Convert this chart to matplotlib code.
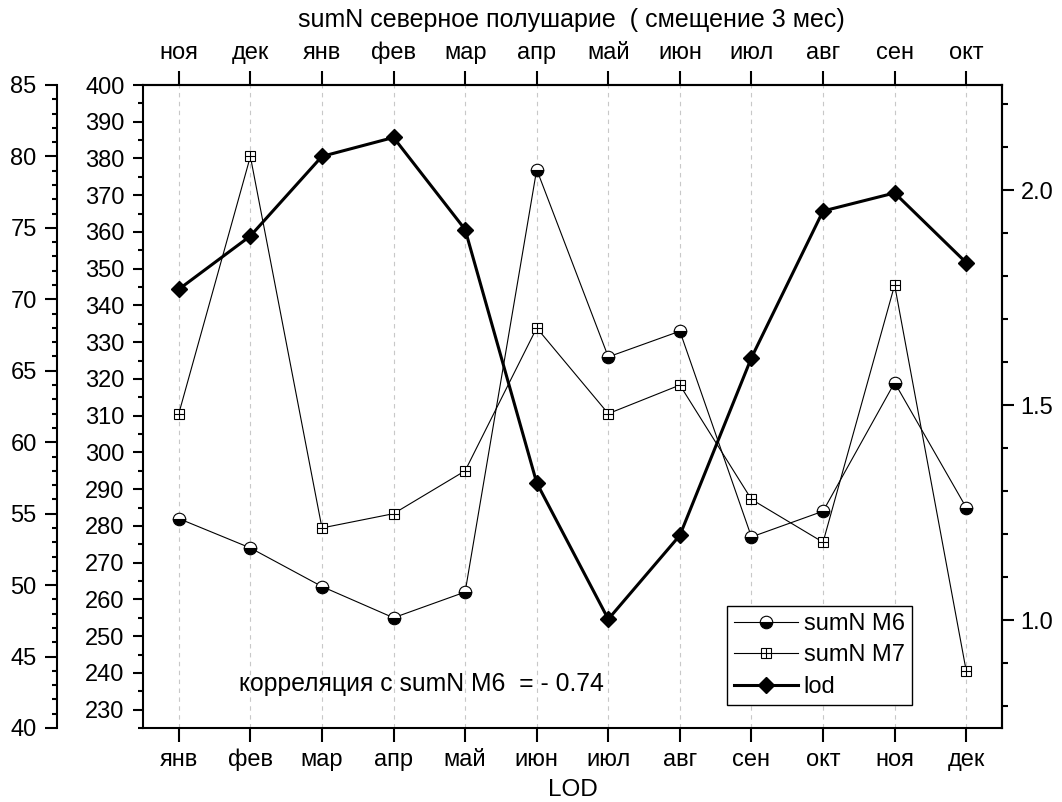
import matplotlib
matplotlib.use('Agg')
import matplotlib.pyplot as plt
from matplotlib.ticker import MultipleLocator, FormatStrFormatter
from matplotlib.lines import Line2D
from matplotlib.legend_handler import HandlerTuple

plt.rcParams['font.family'] = ['Liberation Sans', 'DejaVu Sans']

# ---------------- data ----------------
months_bottom = ['янв', 'фев', 'мар', 'апр', 'май', 'июн', 'июл', 'авг', 'сен', 'окт', 'ноя', 'дек']
months_top = ['ноя', 'дек', 'янв', 'фев', 'мар', 'апр', 'май', 'июн', 'июл', 'авг', 'сен', 'окт']
sumN_M6 = [282, 274, 263.5, 255, 262, 377, 326, 333, 277, 284, 319, 285]
sumN_M7 = [62, 80, 54, 55, 58, 68, 62, 64, 56, 53, 71, 44]
lod = [1.770, 1.894, 2.079, 2.123, 1.909, 1.320, 1.003, 1.198, 1.611, 1.952, 1.994, 1.832]
title = 'sumN северное полушарие  ( смещение 3 мес)'
note = 'корреляция с sumN M6  = - 0.74'

x = list(range(1, 13))

# ---------------- figure ----------------
W, H = 1062, 802
fig = plt.figure(figsize=(W / 100, H / 100), dpi=100)
L, R, T, B = 143, 1002, 85, 728
ax = fig.add_axes([L / W, 1 - B / H, (R - L) / W, (B - T) / H])
ax_out = ax.twinx()
ax_r = ax.twinx()

SW = 1.5
FS = 17

# M6 on inner left axis
ax.plot(x, sumN_M6, color='k', lw=0.8, marker='o', fillstyle='bottom',
        markerfacecolor='k', markerfacecoloralt='w', markeredgecolor='k',
        markersize=9, markeredgewidth=0.8, zorder=3)
ax.set_ylim(225, 400)
ax.set_xlim(0.5, 12.5)
ax.yaxis.set_major_locator(MultipleLocator(10))
ax.yaxis.set_minor_locator(MultipleLocator(5))
ax.set_xticks(x)
ax.set_xticklabels(months_bottom)
ax.tick_params(axis='y', which='major', direction='out', length=7.2, width=SW, labelsize=FS, pad=6)
ax.tick_params(axis='y', which='minor', direction='out', length=3.6, width=SW)
ax.tick_params(axis='x', which='major', direction='out', length=10, width=SW, labelsize=FS, pad=5)
ax.xaxis.grid(True, linestyle=(0, (4, 4)), color='#c8c8c8', linewidth=0.8)
for s in ax.spines.values():
    s.set_linewidth(SW)
ax.set_xlabel('LOD', fontsize=17.5, labelpad=5.5)

# top axis
sec = ax.secondary_xaxis('top')
sec.set_xticks(x)
sec.set_xticklabels(months_top)
sec.tick_params(axis='x', direction='out', length=10, width=SW, labelsize=FS, pad=5)
sec.spines['top'].set_linewidth(SW)

# M7 on outer left axis
ax_out.plot(x, sumN_M7, color='k', lw=0.8, marker='s', markerfacecolor='w',
            markeredgecolor='k', markersize=7.5, markeredgewidth=0.8, zorder=3)
ax_out.plot(x, sumN_M7, linestyle='none', marker='+', color='k',
            markersize=7.5, markeredgewidth=0.8, zorder=4)
ax_out.set_ylim(40, 85)
ax_out.yaxis.set_major_locator(MultipleLocator(5))
ax_out.yaxis.set_minor_locator(MultipleLocator(1))
ax_out.yaxis.set_ticks_position('left')
ax_out.yaxis.set_label_position('left')
ax_out.spines['left'].set_position(('axes', -(L - 57) / (R - L)))
ax_out.spines['left'].set_visible(True)
ax_out.spines['left'].set_linewidth(SW)
for k in ('right', 'top', 'bottom'):
    ax_out.spines[k].set_visible(False)
ax_out.tick_params(axis='y', which='major', direction='out', length=8.6, width=SW, labelsize=FS, pad=6)
ax_out.tick_params(axis='y', which='minor', direction='out', length=3.6, width=SW)

# lod on right axis
ax_r.plot(x, lod, color='k', lw=2.2, marker='D', markersize=8.5, zorder=5)
ax_r.set_ylim(0.75, 2.245)
ax_r.yaxis.set_major_locator(MultipleLocator(0.5))
ax_r.yaxis.set_minor_locator(MultipleLocator(0.1))
ax_r.yaxis.set_major_formatter(FormatStrFormatter('%.1f'))
for k in ('left', 'top', 'bottom'):
    ax_r.spines[k].set_visible(False)
ax_r.spines['right'].set_linewidth(SW)
ax_r.tick_params(axis='y', which='major', direction='out', length=8.5, width=SW, labelsize=FS, pad=5)
ax_r.tick_params(axis='y', which='minor', direction='out', length=4, width=SW)

# legend
h6 = Line2D([], [], color='k', lw=0.8, marker='o', fillstyle='bottom',
            markerfacecolor='k', markerfacecoloralt='w', markeredgecolor='k',
            markersize=9, markeredgewidth=0.8)
h7a = Line2D([], [], color='k', lw=0.8, marker='s', markerfacecolor='w',
             markeredgecolor='k', markersize=7.5, markeredgewidth=0.8)
h7b = Line2D([], [], linestyle='none', marker='+', color='k', markersize=7.5, markeredgewidth=0.8)
hl = Line2D([], [], color='k', lw=2.2, marker='D', markersize=8.5)
leg = ax_r.legend([h6, (h7a, h7b), hl], ['sumN M6', 'sumN M7', 'lod'],
                  handler_map={tuple: HandlerTuple(ndivide=1, pad=0)},
                  loc='lower left', bbox_to_anchor=(0.680, 0.0358), fontsize=FS,
                  frameon=True, fancybox=False, edgecolor='k', framealpha=1,
                  handlelength=2.7, handletextpad=0.25, borderpad=0.3,
                  labelspacing=0.4, borderaxespad=0)
leg.get_frame().set_linewidth(1.0)

# annotation and title
ax.text((239 - L) / (R - L), (B - 684) / (B - T), note, transform=ax.transAxes,
        fontsize=17.8, ha='left', va='center')
fig.text(571 / W, 1 - 20 / H, title, ha='center', va='center', fontsize=18)

fig.savefig('out.png', dpi=100)
